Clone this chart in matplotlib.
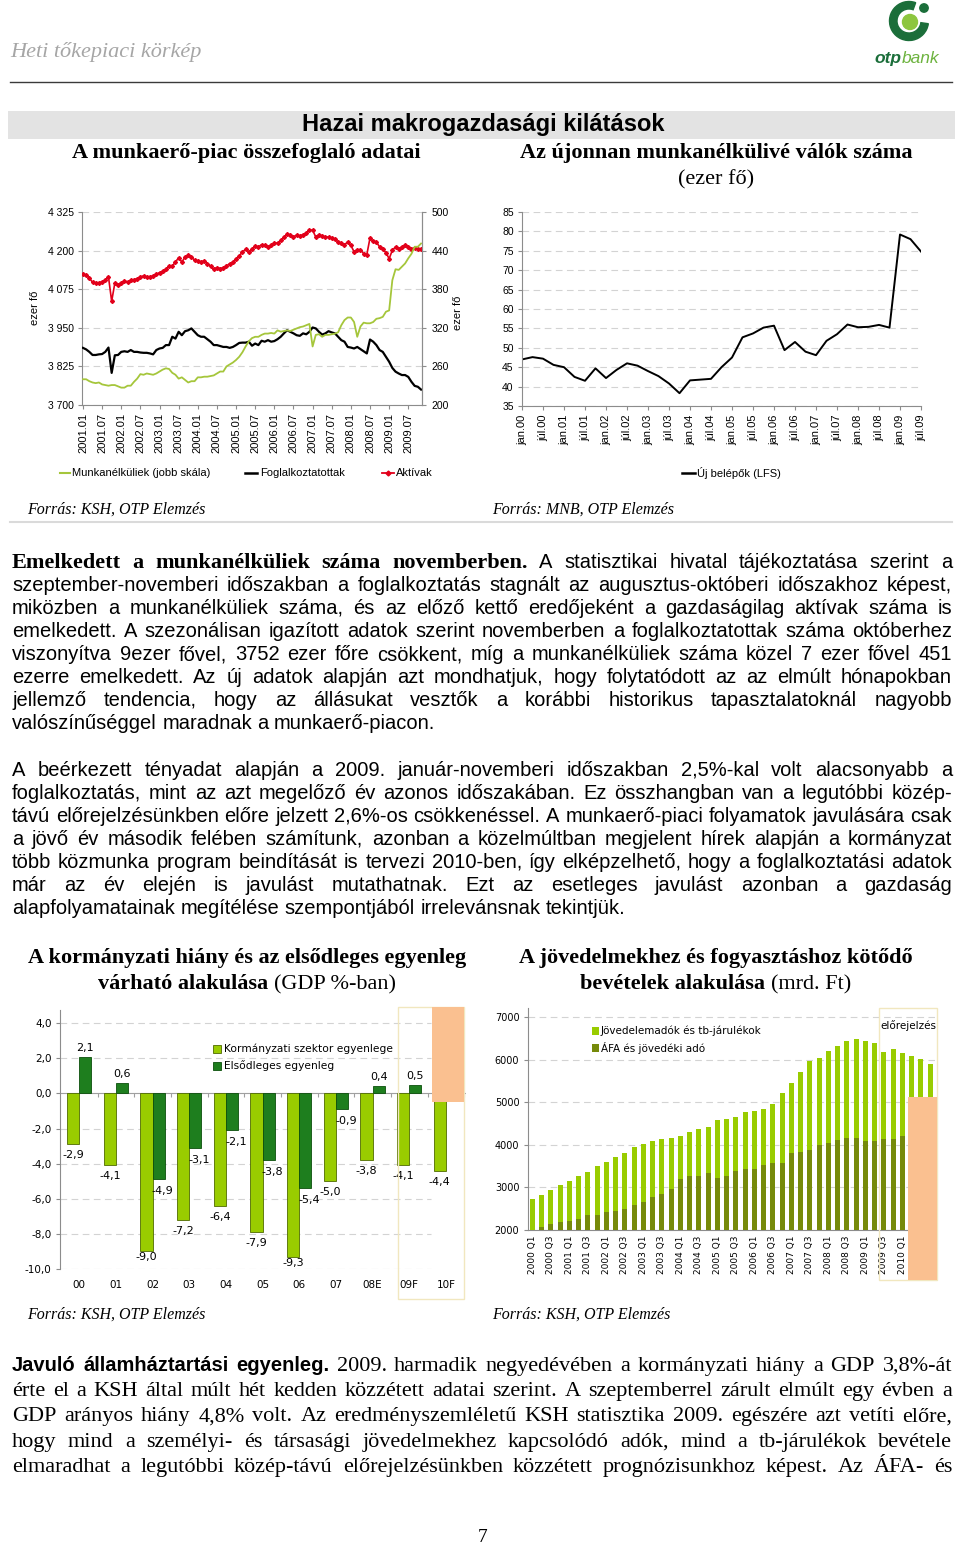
import numpy as np
import matplotlib
matplotlib.use("Agg")
import matplotlib.pyplot as plt
from matplotlib.patches import Rectangle, Wedge, Circle
from matplotlib.lines import Line2D
from matplotlib.ticker import FuncFormatter

W, H = 960, 1547
SANS = "Liberation Sans"
SERIF = "Liberation Serif"
TAH = "DejaVu Sans"

#------ A munkaerő-piac összefoglaló adatai (havi, 2001.01 - 2009.11), ezer fő
aktivak = [4123, 4120, 4112, 4097, 4095, 4096, 4099, 4104, 4115, 4036, 4095, 4090,
           4096, 4101, 4099, 4104, 4106, 4109, 4115, 4118, 4114, 4116, 4117, 4123,
           4129, 4133, 4140, 4150, 4150, 4163, 4177, 4163, 4179, 4185, 4179, 4169,
           4165, 4163, 4167, 4158, 4150, 4140, 4145, 4142, 4144, 4150, 4158, 4163,
           4174, 4183, 4196, 4204, 4196, 4206, 4215, 4212, 4219, 4217, 4212, 4217,
           4223, 4225, 4233, 4244, 4253, 4250, 4245, 4250, 4247, 4252, 4257, 4266,
           4266, 4244, 4252, 4247, 4244, 4244, 4241, 4237, 4228, 4223, 4219, 4228,
           4217, 4196, 4203, 4203, 4190, 4187, 4241, 4230, 4228, 4212, 4206, 4193,
           4174, 4201, 4212, 4206, 4212, 4217, 4212, 4206, 4209, 4204, 4206]
foglalkoztatottak = [3885, 3880, 3872, 3862, 3862, 3864, 3865, 3872, 3886, 3804, 3861, 3862,
                     3872, 3874, 3872, 3878, 3872, 3872, 3870, 3869, 3869, 3867, 3864, 3878,
                     3883, 3885, 3894, 3894, 3921, 3915, 3937, 3926, 3939, 3942, 3948, 3937,
                     3926, 3921, 3921, 3913, 3905, 3894, 3894, 3891, 3888, 3888, 3885, 3888,
                     3894, 3901, 3902, 3902, 3905, 3892, 3899, 3894, 3908, 3905, 3910, 3905,
                     3907, 3913, 3921, 3932, 3942, 3937, 3932, 3926, 3924, 3932, 3929, 3937,
                     3951, 3948, 3937, 3928, 3932, 3939, 3935, 3932, 3921, 3910, 3905, 3888,
                     3886, 3883, 3888, 3881, 3874, 3867, 3912, 3905, 3894, 3878, 3872, 3856,
                     3840, 3820, 3808, 3802, 3797, 3797, 3791, 3775, 3762, 3759, 3750]
munkanelkuliek = [240, 240, 237, 235, 234, 235, 232, 231, 230, 231, 231, 229,
                  227, 227, 230, 230, 236, 241, 248, 247, 249, 248, 247, 249,
                  252, 255, 257, 256, 250, 247, 241, 243, 239, 235, 237, 237,
                  243, 243, 244, 244, 245, 246, 249, 252, 252, 260, 263, 266,
                  270, 275, 282, 291, 299, 304, 306, 306, 309, 311, 311, 312,
                  311, 316, 314, 315, 316, 315, 317, 319, 321, 322, 324, 326,
                  291, 309, 310, 306, 309, 309, 310, 311, 313, 324, 332, 336,
                  336, 329, 306, 322, 328, 327, 327, 329, 334, 335, 337, 345,
                  347, 394, 411, 410, 415, 420, 428, 435, 446, 446, 451]
ticks_havi = ["2001.01", "2001.07", "2002.01", "2002.07", "2003.01", "2003.07",
              "2004.01", "2004.07", "2005.01", "2005.07", "2006.01", "2006.07",
              "2007.01", "2007.07", "2008.01", "2008.07", "2009.01", "2009.07"]

#------ Az újonnan munkanélkülivé válók száma (negyedéves, 2000 Q1 - 2009 Q3)
uj_belepok = [47.0, 47.6, 47.2, 45.6, 45.0, 42.5, 41.5, 44.7, 42.2, 44.3,
              46.0, 45.4, 44.0, 42.7, 40.8, 38.3, 41.6, 41.8, 42.0, 45.0,
              47.5, 52.7, 53.7, 55.2, 55.7, 49.4, 51.5, 49.0, 48.1, 51.8,
              53.5, 56.0, 55.3, 55.4, 55.9, 55.2, 79.2, 78.0, 74.8]
ticks_uj = ["jan.00", "júl.00", "jan.01", "júl.01", "jan.02", "júl.02", "jan.03",
            "júl.03", "jan.04", "júl.04", "jan.05", "júl.05", "jan.06", "júl.06",
            "jan.07", "júl.07", "jan.08", "júl.08", "jan.09", "júl.09"]

#------ Kormányzati hiány (GDP %)
evek = ["00", "01", "02", "03", "04", "05", "06", "07", "08E", "09F", "10F"]
korm_egyenleg = [-2.9, -4.1, -9.0, -7.2, -6.4, -7.9, -9.3, -5.0, -3.8, -4.1, -4.4]
elsodleges = [2.1, 0.6, -4.9, -3.1, -2.1, -3.8, -5.4, -0.9, 0.4, 0.5, np.nan]

#------ Bevételek (mrd. Ft), 2000 Q1 - 2010 Q4
jovedelem = [2730, 2830, 2930, 3050, 3150, 3265, 3370, 3510, 3600, 3720, 3810, 3945,
             4015, 4085, 4140, 4170, 4200, 4290, 4370, 4410, 4580, 4600, 4655, 4760,
             4800, 4850, 4950, 5210, 5440, 5700, 5960, 6045, 6200, 6330, 6440, 6475,
             6440, 6400, 6180, 6240, 6155, 6085, 6010, 5905]
afa = [1980, 2060, 2140, 2195, 2200, 2260, 2350, 2360, 2420, 2450, 2485, 2585,
       2650, 2765, 2850, 2970, 3190, 3265, 3265, 3345, 3210, 3265, 3385, 3430,
       3430, 3525, 3580, 3580, 3800, 3830, 3885, 3990, 4040, 4110, 4155, 4170,
       4085, 4085, 4140, 4140, 4210, np.nan, np.nan, np.nan]
ticks_bev = ["2000 Q1", "2000 Q3", "2001 Q1", "2001 Q3", "2002 Q1", "2002 Q3",
             "2003 Q1", "2003 Q3", "2004 Q1", "2004 Q3", "2005 Q1", "2005 Q3",
             "2006 Q1", "2006 Q3", "2007 Q1", "2007 Q3", "2008 Q1", "2008 Q3",
             "2009 Q1", "2009 Q3", "2010 Q1"]

fig = plt.figure(figsize=(9.6, 15.47), dpi=100)
renderer = fig.canvas.get_renderer()


def ax_px(x0, y0, x1, y1):
    return fig.add_axes([x0 / W, 1 - y1 / H, (x1 - x0) / W, (y1 - y0) / H])


def ftext(x, y, s, **kw):
    return fig.text(x / W, 1 - y / H, s, **kw)


def rect_px(x0, y0, x1, y1, **kw):
    r = Rectangle((x0 / W, 1 - y1 / H), (x1 - x0) / W, (y1 - y0) / H,
                  transform=fig.transFigure, **kw)
    fig.add_artist(r)
    return r


def hline_px(x0, x1, y, **kw):
    fig.add_artist(Line2D([x0 / W, x1 / W], [1 - y / H] * 2, transform=fig.transFigure, **kw))


def text_w(s, st):
    t = fig.text(0, 0, s, **st)
    w = t.get_window_extent(renderer).width
    t.remove()
    return w


def runs(items, x, base, align="left"):
    ws = [text_w(s, st) for s, st in items]
    sp = [0.26 * st["size"] * 100 / 72 for s, st in items]
    total = sum(ws) + sum(sp[:-1])
    if align == "center":
        x = x - total / 2
    for (s, st), w, g in zip(items, ws, sp):
        ftext(x, base, s, ha="left", va="baseline", **st)
        x += w + g


def put_line(tokens, base, justify=True, x0=12, x1=952):
    words = []
    for txt, st in tokens:
        for w in txt.split():
            words.append((w, dict(st)))
    ws = [text_w(w, st) for w, st in words]
    n = len(words)
    min_gap = 3.0
    if justify and n > 1 and sum(ws) + min_gap * (n - 1) > (x1 - x0):
        # túl hosszú sor: kicsit kisebb betű
        f = (x1 - x0 - min_gap * (n - 1)) / sum(ws)
        for w, st in words:
            st["size"] = st["size"] * f
        ws = [text_w(w, st) for w, st in words]
    if justify and n > 1:
        gap = (x1 - x0 - sum(ws)) / (n - 1)
    else:
        gap = 0.27 * words[-1][1]["size"] * 100 / 72
    x = x0
    for (w, st), wd in zip(words, ws):
        ftext(x, base, w, ha="left", va="baseline", **st)
        x += wd + gap


def style_ax(ax, sides=("left", "bottom")):
    for name, sp in ax.spines.items():
        sp.set_visible(name in sides)
        sp.set_color("#8C8C8C")
        sp.set_linewidth(0.8)
    ax.set_facecolor("none")


#======== fejléc
ftext(10, 52, "Heti tőkepiaci körkép", family=SERIF, style="italic", size=16,
      color="#A6A6A6", va="center")
hline_px(10, 952, 82, color="#3A3A3A", lw=1.0)

lg = ax_px(870, 0, 950, 45)
lg.set_xlim(870, 950)
lg.set_ylim(0, 45)
lg.axis("off")
lg.add_patch(Wedge((909, 24), 19.5, 70, 352, width=7.5, color="#1B6E3A"))
lg.add_patch(Circle((910, 23), 7.5, color="#8DC63F"))
lg.add_patch(Circle((924, 37), 4.2, color="#1B6E3A"))
ftext(874, 63, "otp", family=SANS, size=12.5, weight="bold", style="italic", color="#1B6E3A",
      ha="left", va="baseline")
ftext(902, 63, "bank", family=SANS, size=12.5, style="italic", color="#6DB33F",
      ha="left", va="baseline")

rect_px(8, 111, 955, 139, facecolor="#E3E3E3", edgecolor="none", zorder=0)
ftext(483, 125, "Hazai makrogazdasági kilátások", family=SANS, weight="bold", size=17,
      ha="center", va="center")
TB = dict(family=SERIF, size=16, weight="bold")
TR = dict(family=SERIF, size=16)
runs([("A munkaerő-piac összefoglaló adatai", TB)], 246, 158, "center")
runs([("Az újonnan munkanélkülivé válók száma", TB)], 716, 158, "center")
runs([("(ezer fő)", TR)], 716, 184, "center")

#======== 1. ábra: munkaerő-piac
GRID = dict(color="#D3D3D3", lw=0.8, ls=(0, (6, 4)))
ax1 = ax_px(82, 212, 422, 405)
xm = np.arange(len(aktivak))
ax1.plot(xm, foglalkoztatottak, color="black", lw=1.6, zorder=3)
ax1.plot(xm, aktivak, color="#E2001A", lw=1.2, marker="D", ms=2.0, zorder=4)
ax1.set_xlim(-0.3, 106.3)
ax1.set_ylim(3700, 4325)
ax1.set_yticks(np.arange(3700, 4326, 125))
ax1.yaxis.set_major_formatter(FuncFormatter(lambda v, p: f"{int(v):,}".replace(",", " ")))
ax1.set_xticks(np.arange(len(ticks_havi)) * 6)
ax1.set_xticklabels(ticks_havi, rotation=90, family=SANS, fontsize=8)
for lab in ax1.get_yticklabels():
    lab.set_family(SANS)
ax1.tick_params(labelsize=7.5, length=3, width=0.8, color="#8C8C8C", pad=3)
ax1.tick_params(axis="x", labelsize=8)
ax1.yaxis.grid(True, **GRID)
ax1.set_axisbelow(True)
style_ax(ax1, ("left", "bottom", "right"))
ax1r = ax1.twinx()
ax1r.plot(xm, munkanelkuliek, color="#A5C63B", lw=1.3, zorder=2)
ax1r.set_ylim(200, 500)
ax1r.set_yticks(np.arange(200, 501, 60))
ax1r.tick_params(labelsize=7.5, length=3, width=0.8, color="#8C8C8C", pad=4)
for lab in ax1r.get_yticklabels():
    lab.set_family(SANS)
style_ax(ax1r, ("right",))
ftext(35, 308, "ezer fő", family=SANS, size=8, rotation=90, ha="center", va="center")
ftext(458, 313, "ezer fő", family=SANS, size=8, rotation=90, ha="center", va="center")

LEG = dict(family=SANS, size=8, ha="left", va="center")
fig.add_artist(Line2D([60 / W, 70 / W], [1 - 473 / H] * 2, transform=fig.transFigure,
                      color="#A5C63B", lw=1.5))
ftext(72, 473, "Munkanélküliek (jobb skála)", **LEG)
fig.add_artist(Line2D([245 / W, 257 / W], [1 - 473 / H] * 2, transform=fig.transFigure,
                      color="black", lw=1.8))
ftext(260, 473, "Foglalkoztatottak", **LEG)
fig.add_artist(Line2D([382 / W, 388 / W, 394 / W], [1 - 473 / H] * 3, transform=fig.transFigure,
                      color="#E2001A", lw=1.3, marker="D", ms=2.5, markevery=[1]))
ftext(396, 473, "Aktívak", **LEG)

#======== 2. ábra: új belépők
ax2 = ax_px(522, 212, 921, 406)
ax2.plot(np.arange(len(uj_belepok)), uj_belepok, color="black", lw=1.4)
ax2.set_xlim(0, len(uj_belepok) - 1)
ax2.set_ylim(35, 85)
ax2.set_yticks(np.arange(35, 86, 5))
ax2.set_xticks(np.arange(len(ticks_uj)) * 2)
ax2.set_xticklabels(ticks_uj, rotation=90, family=SANS, fontsize=8)
for lab in ax2.get_yticklabels():
    lab.set_family(SANS)
ax2.tick_params(labelsize=7.5, length=3, width=0.8, color="#8C8C8C", pad=3)
ax2.tick_params(axis="x", labelsize=8)
ax2.yaxis.grid(True, **GRID)
ax2.set_axisbelow(True)
style_ax(ax2)
fig.add_artist(Line2D([682 / W, 695 / W], [1 - 473 / H] * 2, transform=fig.transFigure,
                      color="black", lw=1.8))
ftext(697, 473, "Új belépők (LFS)", **LEG)

SRC = dict(family=SERIF, style="italic", size=11.5, ha="left", va="center")
ftext(27, 510, "Forrás: KSH, OTP Elemzés", **SRC)
ftext(492, 510, "Forrás: MNB, OTP Elemzés", **SRC)
hline_px(10, 952, 522, color="#DADADA", lw=1.5)

#======== szöveg 1-2
A = dict(family=SANS, size=14.5)
SB = dict(family=SERIF, size=16, weight="bold")
AB = dict(family=SANS, size=14.5, weight="bold")
S = dict(family=SERIF, size=16)

par1 = [
    [("Emelkedett a munkanélküliek száma novemberben.", SB),
     ("A statisztikai hivatal tájékoztatása szerint a", A)],
    [("szeptember-novemberi időszakban a foglalkoztatás stagnált az augusztus-októberi időszakhoz képest,", A)],
    [("miközben a munkanélküliek száma, és az előző kettő eredőjeként a gazdaságilag aktívak száma is", A)],
    [("emelkedett. A szezonálisan igazított adatok szerint novemberben a foglalkoztatottak száma októberhez", A)],
    [("viszonyítva 9ezer fővel, 3752 ezer főre csökkent, míg a munkanélküliek száma közel 7 ezer fővel 451", A)],
    [("ezerre emelkedett. Az új adatok alapján azt mondhatjuk, hogy folytatódott az az elmúlt hónapokban", A)],
    [("jellemző tendencia, hogy az állásukat vesztők a korábbi historikus tapasztalatoknál nagyobb", A)],
    [("valószínűséggel maradnak a munkaerő-piacon.", A)],
]
par2 = [
    [("A beérkezett tényadat alapján a 2009. január-novemberi időszakban 2,5%-kal volt alacsonyabb a", A)],
    [("foglalkoztatás, mint az azt megelőző év azonos időszakában. Ez összhangban van a legutóbbi közép-", A)],
    [("távú előrejelzésünkben előre jelzett 2,6%-os csökkenéssel. A munkaerő-piaci folyamatok javulására csak", A)],
    [("a jövő év második felében számítunk, azonban a közelmúltban megjelent hírek alapján a kormányzat", A)],
    [("több közmunka program beindítását is tervezi 2010-ben, így elképzelhető, hogy a foglalkoztatási adatok", A)],
    [("már az év elején is javulást mutathatnak. Ezt az esetleges javulást azonban a gazdaság", A)],
    [("alapfolyamatainak megítélése szempontjából irrelevánsnak tekintjük.", A)],
]
par3 = [
    [("Javuló államháztartási egyenleg.", AB),
     ("2009. harmadik negyedévében a kormányzati hiány a GDP 3,8%-át", S)],
    [("érte el a KSH által múlt hét kedden közzétett adatai szerint. A szeptemberrel zárult elmúlt egy évben a", S)],
    [("GDP arányos hiány 4,8% volt. Az eredményszemléletű KSH statisztika 2009. egészére azt vetíti előre,", S)],
    [("hogy mind a személyi- és társasági jövedelmekhez kapcsolódó adók, mind a tb-járulékok bevétele", S)],
    [("elmaradhat a legutóbbi közép-távú előrejelzésünkben közzétett prognózisunkhoz képest. Az ÁFA- és", S)],
]
for i, ln in enumerate(par1):
    put_line(ln, 568 + 23 * i, justify=i < len(par1) - 1)
for i, ln in enumerate(par2):
    put_line(ln, 776 + 23 * i, justify=i < len(par2) - 1)
for i, ln in enumerate(par3):
    put_line(ln, 1371 + 25.2 * i, justify=True)

#======== alsó ábracímek
TB2 = dict(family=SERIF, size=16, weight="bold")
TR2 = dict(family=SERIF, size=16)
runs([("A kormányzati hiány és az elsődleges egyenleg", TB2)], 247, 963, "center")
runs([("várható alakulása", TB2), ("(GDP %-ban)", TR2)], 247, 989, "center")
runs([("A jövedelmekhez és fogyasztáshoz kötődő", TB2)], 716, 963, "center")
runs([("bevételek alakulása", TB2), ("(mrd. Ft)", TR2)], 716, 989, "center")

#======== 3. ábra: hiány
LGREEN = "#99CC00"
ax3 = ax_px(60, 1010, 466, 1269)
xc = np.arange(len(evek))
bw = 0.33
ax3.bar(xc - bw / 2, korm_egyenleg, bw, color=LGREEN, edgecolor="#4F6B00", lw=0.6, zorder=3)
ax3.bar(xc + bw / 2, elsodleges, bw, color="#1E7E1E", edgecolor="#0B4F0B", lw=0.6, zorder=3)
ax3.set_xlim(-0.525, 10.55)
ax3.set_ylim(-10, 4.75)
yt3 = np.arange(-10, 4.1, 2)
ax3.set_yticks(yt3)
ax3.yaxis.set_major_formatter(FuncFormatter(lambda v, p: f"{v:.1f}".replace(".", ",")))
ax3.hlines([v for v in yt3 if v != 0], -0.525, 9.6, colors="#D3D3D3", lw=0.8,
           linestyles=(0, (6, 4)), zorder=1)
ax3.axhline(0, color="#A0A0A0", lw=0.8, zorder=2)
ax3.vlines(np.arange(len(evek)) + 0.5, -0.2, 0, color="#A0A0A0", lw=0.8, zorder=2)
ax3.set_xticks(xc)
ax3.set_xticklabels(evek)
ax3.tick_params(axis="x", length=0, pad=8, labelsize=7.5)
ax3.tick_params(axis="y", length=3, width=0.8, color="#8C8C8C", labelsize=7.5, pad=3)
style_ax(ax3, ("left",))
PX = 0.72
for xi, v in zip(xc, korm_egyenleg):
    dy = -6 if v < -8.5 else -11
    ax3.annotate(f"{v:.1f}".replace(".", ","), (xi - bw / 2, v), xytext=(0, dy * PX),
                 textcoords="offset points", ha="center", va="center", fontsize=8, zorder=4)
for xi, v in zip(xc, elsodleges):
    if np.isnan(v):
        continue
    if v >= 0:
        off = (0, 9 * PX)
    else:
        off = (4 * PX, -12 * PX)
    ax3.annotate(f"{v:.1f}".replace(".", ","), (xi + bw / 2, v), xytext=off,
                 textcoords="offset points", ha="center", va="center", fontsize=8, zorder=4)

rect_px(398, 1007, 464, 1299, facecolor="none", edgecolor="#F1E7BF", lw=1.0, zorder=5)
rect_px(432, 1007, 464, 1102, facecolor="#FAC090", edgecolor="none", zorder=6)

rect_px(213, 1045, 221, 1053, facecolor=LGREEN, edgecolor="#4F6B00", lw=0.6, zorder=5)
rect_px(213, 1062, 221, 1070, facecolor="#1E7E1E", edgecolor="#0B4F0B", lw=0.6, zorder=5)
ftext(224, 1049, "Kormányzati szektor egyenlege", family=TAH, size=7.7, ha="left", va="center")
ftext(224, 1066, "Elsődleges egyenleg", family=TAH, size=7.7, ha="left", va="center")

#======== 4. ábra: bevételek
ax4 = ax_px(527.7, 1008, 934.7, 1230)
xq = np.arange(len(jovedelem))
ax4.bar(xq, jovedelem, 0.55, color=LGREEN, zorder=3)
ax4.bar(xq, afa, 0.55, color="#768A0A", zorder=4)
ax4.set_xlim(-0.5, len(jovedelem) - 0.5)
ax4.set_ylim(2000, 7211)
ax4.set_yticks(np.arange(2000, 7001, 1000))
ax4.yaxis.grid(True, **GRID)
ax4.set_axisbelow(True)
ax4.set_xticks(np.arange(len(ticks_bev)) * 2)
ax4.set_xticklabels(ticks_bev, rotation=90)
ax4.tick_params(axis="x", length=0, pad=4, labelsize=6.5)
ax4.tick_params(axis="y", length=3, width=0.8, color="#8C8C8C", labelsize=7, pad=3)
style_ax(ax4)

rect_px(879, 1008, 937, 1280, facecolor="none", edgecolor="#F1E7BF", lw=1.0, zorder=5)
rect_px(908, 1097, 937, 1280, facecolor="#FAC090", edgecolor="none", zorder=6)
ftext(908, 1026, "előrejelzés", family=TAH, size=7.5, ha="center", va="center")
rect_px(592, 1027, 599, 1035, facecolor=LGREEN, edgecolor="none", zorder=5)
rect_px(592, 1044, 599, 1052, facecolor="#768A0A", edgecolor="none", zorder=5)
ftext(601, 1031, "Jövedelemadók és tb-járulékok", family=TAH, size=7.5, ha="left", va="center")
ftext(601, 1048, "ÁFA és jövedéki adó", family=TAH, size=7.5, ha="left", va="center")

ftext(27, 1315, "Forrás: KSH, OTP Elemzés", **SRC)
ftext(492, 1315, "Forrás: KSH, OTP Elemzés", **SRC)

ftext(483, 1537, "7", family=SERIF, size=14, ha="center", va="center")

fig.savefig("out.png", dpi=100)
